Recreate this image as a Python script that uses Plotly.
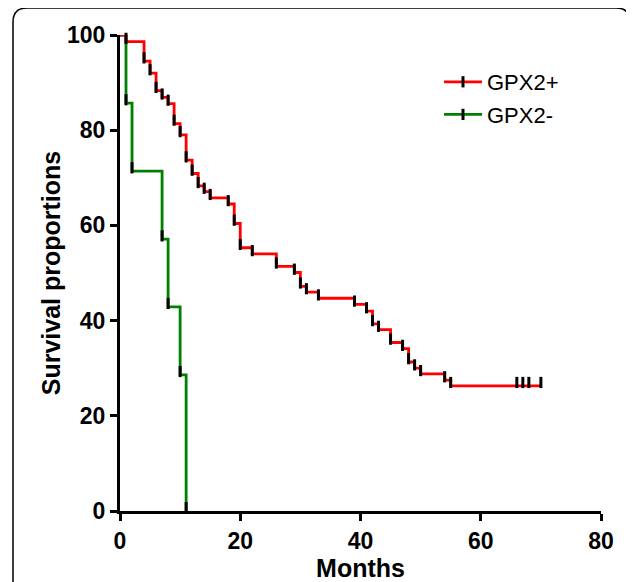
import plotly.graph_objects as go

# ---- data ----
pos_times = [0, 1, 4, 5, 6, 7, 8, 9, 10, 11, 12, 13, 14, 15, 18, 19, 20, 22, 26, 29, 30,
             31, 33, 39, 41, 42, 43, 45, 47, 48, 49, 50, 54, 55]
pos_surv = [100, 98.6, 94.5, 92.0, 88.3, 86.9, 85.6, 81.4, 79.0, 73.7, 70.9, 68.3, 67.1,
            65.8, 64.5, 60.4, 55.3, 54.0, 51.4, 50.1, 47.2, 46.0, 44.7, 43.4, 42.0, 39.3,
            38.1, 35.4, 34.1, 31.3, 30.0, 28.8, 27.5, 26.3]
pos_censor = [66, 67, 68, 70]
pos_end = 70

neg_times = [0, 1, 2, 7, 8, 10, 11]
neg_surv = [100, 85.7, 71.4, 57.1, 42.9, 28.6, 0]

x_ticks = [0, 20, 40, 60, 80]
y_ticks = [0, 20, 40, 60, 80, 100]

RED = "rgb(255,0,0)"
GREEN = "rgb(0,128,0)"
TICK_UP = 0.7  # small upward shift of the step marks (data units)

fig = go.Figure()

# curves
fig.add_trace(go.Scatter(x=neg_times, y=neg_surv, mode="lines", line=dict(color=GREEN, width=2.8, shape="hv"),
                         showlegend=False, cliponaxis=False, hoverinfo="skip"))
fig.add_trace(go.Scatter(x=pos_times + [pos_end], y=pos_surv + [pos_surv[-1]], mode="lines",
                         line=dict(color=RED, width=2.8, shape="hv"),
                         showlegend=False, cliponaxis=False, hoverinfo="skip"))

# step / censor marks
mark = dict(symbol="line-ns", size=8, line=dict(color="black", width=3), color="black")
fig.add_trace(go.Scatter(x=neg_times[1:], y=[v + TICK_UP for v in neg_surv[1:]], mode="markers",
                         marker=mark, showlegend=False, cliponaxis=False, hoverinfo="skip"))
fig.add_trace(go.Scatter(x=pos_times[1:] + pos_censor,
                         y=[v + TICK_UP for v in pos_surv[1:]] + [pos_surv[-1] + TICK_UP] * len(pos_censor),
                         mode="markers", marker=mark, showlegend=False, cliponaxis=False, hoverinfo="skip"))

# legend entries
fig.add_trace(go.Scatter(x=[None], y=[None], mode="lines+markers", name="GPX2+", legendgroup="a",
                         line=dict(color=RED, width=2.8), marker=mark))
fig.add_trace(go.Scatter(x=[None], y=[None], mode="lines+markers", name="GPX2-", legendgroup="b",
                         line=dict(color=GREEN, width=2.8), marker=mark))

# the page body adds an 8px offset; figure coordinates are page coordinates minus 8
OFF = 8
FW, FH = 634 - OFF, 582 - OFF
L, W, T, H = 120 - OFF, 481, 35 - OFF, 476


def px(xp):
    return (xp - OFF - L) / W


def py(yp):
    return (T + H - (yp - OFF)) / H


left, right, top, bottom = px(13), px(630), py(8), py(640)
rx, ry = 14 / W, 14 / H
frame_path = (f"M {left},{bottom} L {left},{top - ry} Q {left},{top} {left + rx},{top} "
              f"L {right - rx},{top} Q {right},{top} {right},{top - ry} L {right},{bottom}")

fig.update_layout(
    width=FW, height=FH,
    margin=dict(l=L, r=FW - L - W, t=T, b=FH - T - H, autoexpand=False),
    paper_bgcolor="white", plot_bgcolor="white",
    font=dict(family="Liberation Sans, Arial, sans-serif", color="black"),
    showlegend=True,
    legend=dict(x=px(439), y=py(61), xanchor="left", yanchor="top",
                font=dict(size=22, color="black"), bgcolor="rgba(0,0,0,0)",
                traceorder="grouped", tracegroupgap=1, itemwidth=38),
    shapes=[dict(type="path", xref="paper", yref="paper", path=frame_path,
                 line=dict(color="black", width=1.5), layer="below")],
)

fig.update_xaxes(range=[0, 80], tickvals=x_ticks, ticktext=[str(v) for v in x_ticks], automargin=False,
                 showgrid=False, zeroline=False, showline=True, linecolor="black", linewidth=3,
                 ticks="outside", ticklen=7, tickwidth=3, tickcolor="black",
                 tickfont=dict(size=23, weight="bold", color="black"),
                 title=dict(text="Months", font=dict(size=25, weight="bold", color="black"), standoff=6))
fig.update_yaxes(range=[0, 100], tickvals=y_ticks, ticktext=[str(v) for v in y_ticks], automargin=False,
                 showgrid=False, zeroline=False, showline=True, linecolor="black", linewidth=3,
                 ticks="outside", ticklen=7, tickwidth=3, tickcolor="black",
                 tickfont=dict(size=23, weight="bold", color="black"),
                 title=dict(text="Survival proportions", font=dict(size=25, weight="bold", color="black"),
                            standoff=0))

fig.write_html("out.html")
